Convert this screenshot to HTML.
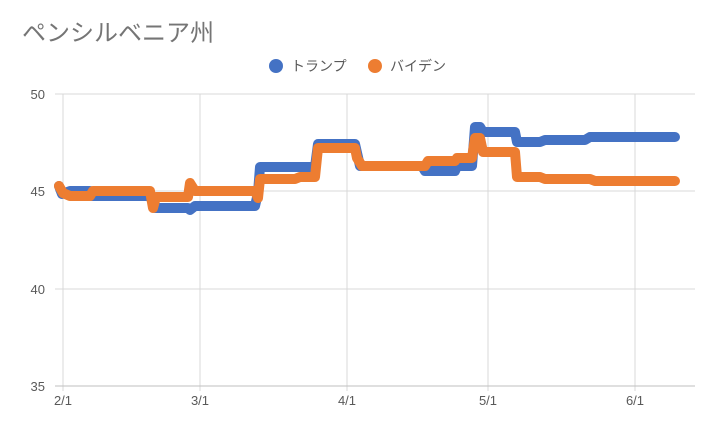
<!DOCTYPE html>
<html><head><meta charset="utf-8"><style>
body{margin:0;background:#fff;}
svg{display:block;font-family:"Liberation Sans","Noto Sans CJK JP",sans-serif;}
</style></head><body>
<svg width="717" height="428" viewBox="0 0 717 428">
<rect width="717" height="428" fill="#fff"/>
<text x="22" y="41" font-size="24" fill="#757575">ペンシルベニア州</text>
<circle cx="276" cy="66" r="7" fill="#4472C4"/>
<text x="291" y="71" font-size="14" fill="#595959">トランプ</text>
<circle cx="375" cy="66" r="7" fill="#ED7D31"/>
<text x="390" y="71" font-size="14" fill="#595959">バイデン</text>
<g stroke="#d9d9d9" stroke-width="1">
<line x1="55" y1="94" x2="695" y2="94"/>
<line x1="55" y1="191" x2="695" y2="191"/>
<line x1="55" y1="289" x2="695" y2="289"/>
<line x1="63" y1="94" x2="63" y2="391"/>
<line x1="200" y1="94" x2="200" y2="391"/>
<line x1="347" y1="94" x2="347" y2="391"/>
<line x1="488" y1="94" x2="488" y2="391"/>
<line x1="635" y1="94" x2="635" y2="391"/>
</g>
<line x1="55" y1="386" x2="695" y2="386" stroke="#bfbfbf"/>
<g font-size="13" fill="#595959" text-anchor="end">
<text x="45" y="99">50</text><text x="45" y="196">45</text><text x="45" y="294">40</text><text x="45" y="391">35</text>
</g>
<g font-size="13" fill="#595959" text-anchor="middle">
<text x="63" y="405">2/1</text><text x="200" y="405">3/1</text><text x="347" y="405">4/1</text><text x="488" y="405">5/1</text><text x="635" y="405">6/1</text>
</g>
<g fill="none" stroke-width="10" stroke-linecap="round" stroke-linejoin="round">
<polyline stroke="#4472C4" points="59,186 62,194 70,191 90,191 92,196 150,196 155,208 188,208 190,210 195,206 255,206 258,193 260,167 315,167 318,144 355,144 360,166 422,166 425,171 455,171 457,166 472,166 475,127 480,127 483,132 515,132 517,142 540,142 545,140 585,140 590,137 675,137"/>
<polyline stroke="#ED7D31" points="59,186 63,193 70,196 90,196 93,191 150,191 153,208 156,197 188,197 190,183 195,191 255,191 258,198 260,179 295,179 300,177 315,177 318,148 355,148 357,158 362,166 425,166 428,161 455,161 457,158 472,158 475,138 480,138 483,152 515,152 517,177 540,177 545,179 590,179 595,181 675,181"/>
</g>
</svg>
</body></html>
